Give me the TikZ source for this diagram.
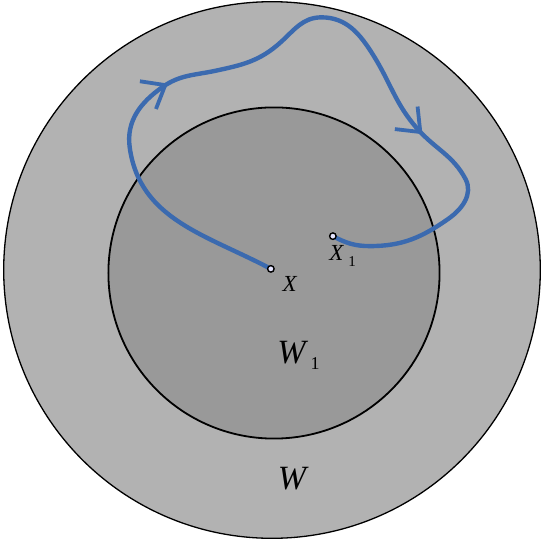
\documentclass[tikz,border=0pt]{standalone}
\usepackage{fontspec}
\setmainfont{Liberation Serif}
\usepackage{tikz}
\usetikzlibrary{arrows.meta, decorations.markings}
\definecolor{pathblue}{RGB}{59,106,175}
\definecolor{outergray}{HTML}{B2B2B2}
\definecolor{innergray}{HTML}{999999}

\begin{document}
\begin{tikzpicture}[
  region/.style={draw=black, fill=#1},
  pt/.style={circle, draw=black, line width=1.4pt, fill=blue!10,
    inner sep=0pt, minimum size=6.5pt},
  lbl/.style={font=\fontsize{#1}{#1}\selectfont\itshape, inner sep=0pt},
  loop/.style={pathblue, line width=4.4pt, line cap=round,
    postaction={decorate},
    decoration={markings,
      mark=at position 0.327 with {\arrow{Straight Barb[length=20pt,width=32pt,line width=3.8pt]}},
      mark=at position 0.722 with {\arrow{Straight Barb[length=20pt,width=32pt,line width=3.8pt]}}}}
]
  \useasboundingbox (-9.56,-9.56) rectangle (9.49,9.49);

  % Sets W and W_1
  \draw[region=outergray, line width=1.3pt] (0,0) circle (9.43);
  \draw[region=innergray, line width=1.8pt] (0.07,-0.105) circle (5.82);

  % End points
  \coordinate (x)  at (-0.04, 0.04);
  \coordinate (x1) at (2.14, 1.19);

  % Path from X to X_1
  \draw[loop] (x)
    to[out=152, in=-82] (-5.0,4.3)
    to[out=98, in=-145] (-3.85,6.43)
    to[out=35, in=192] (-2.0,7.0)
    to[out=12, in=222] (0.3,8.0)
    to[out=42, in=180] (1.74,8.88)
    to[out=0, in=122] (3.56,7.55)
    to[out=-58, in=132] (5.14,4.93)
    to[out=-48, in=118] (6.8,3.2)
    to[out=-62, in=35] (6.2,1.8)
    to[out=-145, in=0] (3.44,0.84)
    to[out=180, in=-28] (x1);

  \node[pt] (px)  at (x)  {};
  \node[pt] (px1) at (x1) {};

  % Labels
  \node[lbl=23] (lx) at (0.62,-0.49) {X};
  \node[lbl=23] (lx1) at (2.48,0.48)
    {X\hspace{5pt}\raisebox{-6pt}{\upshape\fontsize{15}{15}\selectfont 1}};
  \node[lbl=34] (lw1) at (0.93,-3.00)
    {W\hspace{5pt}\raisebox{-6pt}{\upshape\fontsize{18}{18}\selectfont 1}};
  \node[lbl=34] (lw) at (0.70,-7.35) {W};
\end{tikzpicture}
\end{document}
